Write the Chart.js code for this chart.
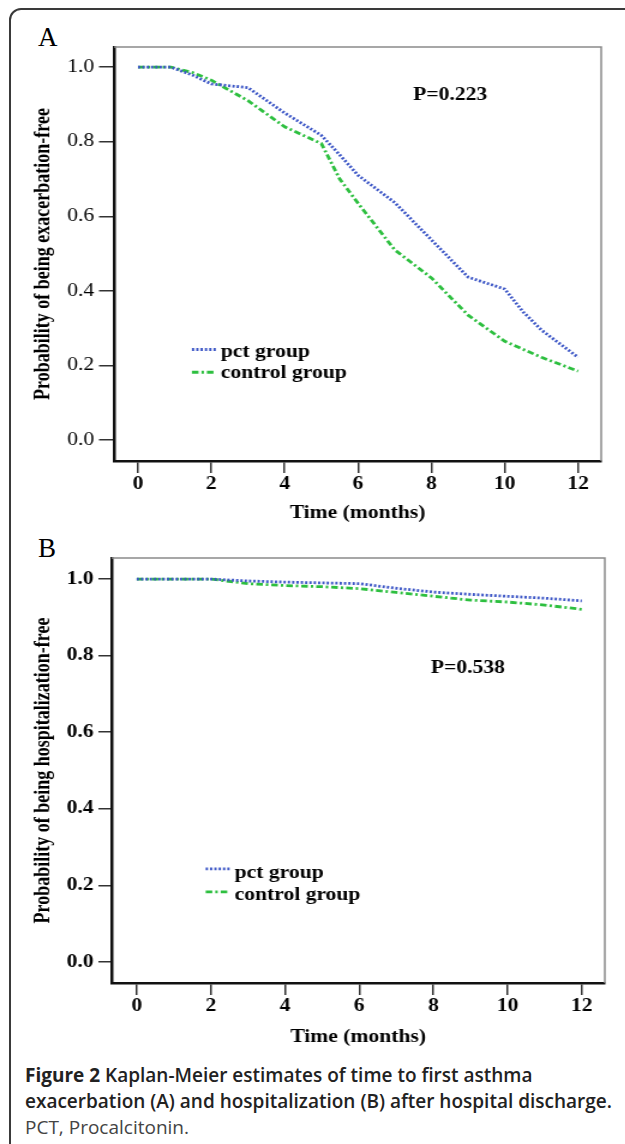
<!DOCTYPE html>
<html>
<head>
<meta charset="utf-8">
<script src="https://cdn.jsdelivr.net/npm/chart.js@4.4.1/dist/chart.umd.min.js"></script>
<style>
html, body { margin: 0; padding: 0; background: #fff; width: 625px; height: 1144px; overflow: hidden; }
#box { position: absolute; left: 9px; top: 8px; width: 700px; height: 1200px; border: 2px solid #3a3a3a; border-radius: 12px; }
.panel { position: absolute; left: 0; transform: scaleX(1.2); transform-origin: 0 0; }
.letter { position: absolute; left: 38px; font-family: "Liberation Serif", serif; font-size: 27px; line-height: 1; color: #000; }
#caption { position: absolute; left: 25px; top: 1062px; font-family: "Open Sans", sans-serif; font-size: 19px; font-weight: 600; line-height: 26px; color: #222; white-space: nowrap; }
#caption b { font-weight: 700; }
#caption .note { font-weight: 400; color: #444; }
</style>
</head>
<body>
<div id="box"></div>
<div class="letter" style="top:24px">A</div>
<div class="panel" style="top:0"><canvas id="chartA" width="520" height="530"></canvas></div>
<div class="letter" style="top:535px">B</div>
<div class="panel" style="top:530px"><canvas id="chartB" width="520" height="530"></canvas></div>
<div id="caption"><b>Figure 2</b> Kaplan-Meier estimates of time to first asthma<br>exacerbation (A) and hospitalization (B) after hospital discharge.<br><span class="note">PCT, Procalcitonin.</span></div>

<script>
/* data */
const seriesNames = ["pct group", "control group"];

// A: exacerbation-free
const pctTimeA = [0, 0.9, 1.5, 2, 2.5, 3, 4, 5, 5.5, 6, 7, 8, 9, 10, 10.5, 11, 12];
const pctProbA = [1.0, 1.0, 0.978, 0.955, 0.95, 0.945, 0.877, 0.817, 0.765, 0.71, 0.637, 0.537, 0.437, 0.405, 0.344, 0.295, 0.222];
const ctrlTimeA = [0, 0.9, 1.5, 2, 3, 4, 5, 5.5, 6, 7, 8, 9, 10, 11, 12];
const ctrlProbA = [1.0, 1.0, 0.985, 0.965, 0.91, 0.84, 0.795, 0.70, 0.635, 0.51, 0.435, 0.335, 0.265, 0.222, 0.185];

// B: hospitalization-free
const pctTimeB = [0, 2, 3, 4, 5, 6, 7, 8, 9, 10, 11, 12];
const pctProbB = [1.0, 1.0, 0.995, 0.992, 0.99, 0.988, 0.976, 0.966, 0.96, 0.955, 0.95, 0.943];
const ctrlTimeB = [0, 2, 3, 4, 5, 6, 7, 8, 9, 10, 11, 12];
const ctrlProbB = [1.0, 1.0, 0.988, 0.983, 0.98, 0.975, 0.965, 0.955, 0.945, 0.94, 0.932, 0.921];

const pLabels = ["P=0.223", "P=0.538"];
const yTitles = ["Probability of being exacerbation-free", "Probability of being hospitalization-free"];
const xTitle = "Time (months)";

const blue = "#3c56c6";
const green = "#2dbf3f";
const serif = "'Liberation Serif', 'Times New Roman', serif";

function pts(t, p) { return t.map((v, i) => ({x: v, y: p[i]})); }

/* frame top/right + legend + p value */
const extras = {
  id: "extras",
  afterDraw(chart, args, o) {
    const {ctx, chartArea: a, scales: {x, y}} = chart;
    ctx.save();
    ctx.strokeStyle = "#8a8a8a";
    ctx.lineWidth = 1.5;
    ctx.beginPath();
    ctx.moveTo(a.left, a.top); ctx.lineTo(a.right, a.top); ctx.lineTo(a.right, a.bottom);
    ctx.stroke();

    ctx.font = "bold 18px " + serif;
    ctx.fillStyle = "#000";
    ctx.textAlign = "center";
    ctx.textBaseline = "alphabetic";
    ctx.fillText(o.pText, x.getPixelForValue(o.pAt[0]), y.getPixelForValue(o.pAt[1]));

    chart.data.datasets.forEach((ds, i) => {
      const ly = y.getPixelForValue(o.lineY[i]);
      ctx.strokeStyle = ds.borderColor;
      ctx.lineWidth = ds.borderWidth;
      ctx.setLineDash(ds.borderDash);
      ctx.beginPath();
      ctx.moveTo(x.getPixelForValue(o.lineX[0]), ly);
      ctx.lineTo(x.getPixelForValue(o.lineX[1]), ly);
      ctx.stroke();
      ctx.setLineDash([]);
      ctx.textAlign = "left";
      ctx.fillText(ds.label, x.getPixelForValue(o.textX), y.getPixelForValue(o.textY[i]));
    });
    ctx.restore();
  }
};

function makeChart(id, c) {
  return new Chart(document.getElementById(id), {
    type: "line",
    data: {
      datasets: [
        { label: seriesNames[0], data: pts(c.pt, c.pp), borderColor: blue, borderWidth: 2.8,
          borderDash: [1.9, 1.7], pointRadius: 0, tension: 0, fill: false },
        { label: seriesNames[1], data: pts(c.ct, c.cp), borderColor: green, borderWidth: 2.8,
          borderDash: [5.5, 2.5, 2, 2.5], pointRadius: 0, tension: 0, fill: false }
      ]
    },
    options: {
      responsive: false,
      animation: false,
      events: [],
      layout: { padding: c.pad },
      plugins: {
        legend: { display: false },
        tooltip: { enabled: false },
        extras: c.extras
      },
      scales: {
        x: {
          type: "linear", min: c.xmin, max: c.xmax,
          afterFit: s => { s.height = c.xh; },
          ticks: { stepSize: 2, includeBounds: false, padding: 1, color: "#000",
                   font: { family: serif, size: 18, weight: "bold" }, callback: v => String(v) },
          grid: { drawOnChartArea: false, tickLength: 12, color: "#333", lineWidth: 1.5 },
          border: { display: true, color: "#111", width: 2.5 },
          title: { display: true, text: xTitle, padding: 0, color: "#000",
                   font: { family: serif, size: 18, weight: "bold" } }
        },
        y: {
          min: c.ymin, max: c.ymax,
          afterFit: s => { s.width = c.yw; },
          ticks: { stepSize: 0.2, includeBounds: false, padding: 4, color: "#000",
                   font: { family: serif, size: 18, weight: c.yBold ? "bold" : "normal" },
                   callback: v => v.toFixed(1) },
          grid: { drawOnChartArea: false, tickLength: c.ytl, color: "#333", lineWidth: 1.5 },
          border: { display: true, color: "#111", width: 2.5 },
          title: { display: true, text: c.yTitle, padding: 0, color: "#000",
                   font: { family: serif, size: 18, weight: "bold" } }
        }
      }
    },
    plugins: [extras]
  });
}

makeChart("chartA", {
  pt: pctTimeA, pp: pctProbA, ct: ctrlTimeA, cp: ctrlProbA,
  pad: { left: 26, right: 19, top: 47, bottom: 6 },
  xmin: -0.654, xmax: 12.63, ymin: -0.056, ymax: 1.054,
  xh: 63, yw: 69, ytl: 12.5, yBold: false, yTitle: yTitles[0],
  extras: { pText: pLabels[0], pAt: [8.51, 0.913], lineX: [1.47, 2.13], lineY: [0.243, 0.182],
            textX: 2.26, textY: [0.2225, 0.166] }
});

makeChart("chartB", {
  pt: pctTimeB, pp: pctProbB, ct: ctrlTimeB, cp: ctrlProbB,
  pad: { left: 26, right: 16, top: 28, bottom: 12 },
  xmin: -0.676, xmax: 12.62, ymin: -0.055, ymax: 1.055,
  xh: 65, yw: 67, ytl: 11, yBold: true, yTitle: yTitles[1],
  extras: { pText: pLabels[1], pAt: [8.93, 0.755], lineX: [1.86, 2.51], lineY: [0.243, 0.183],
            textX: 2.64, textY: [0.22, 0.161] }
});
</script>
</body>
</html>
